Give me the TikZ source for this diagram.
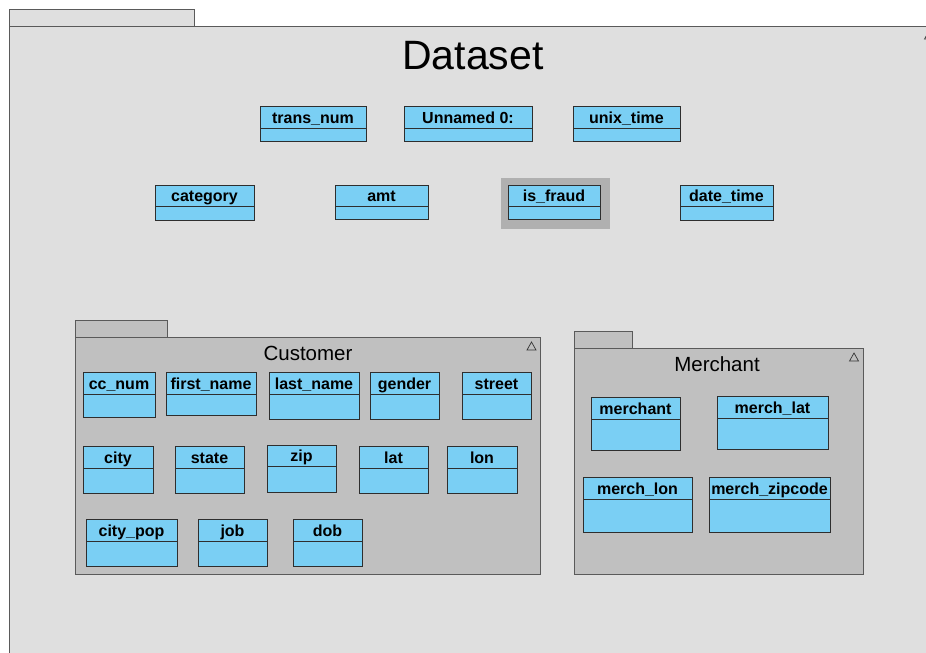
\documentclass[tikz,border=0pt]{standalone}
\usepackage{fontspec}
\setmainfont{Liberation Sans}
\usetikzlibrary{fit}
\definecolor{outerbg}{HTML}{DFDFDF}
\definecolor{pkgbg}{HTML}{C0C0C0}
\definecolor{clsfill}{HTML}{7ACFF4}
\definecolor{pkgline}{HTML}{5A5A5A}
\definecolor{clsline}{HTML}{2E2E2E}
\definecolor{hilite}{HTML}{B0B0B0}
\tikzset{
  pkgshape/.style={draw=pkgline, line width=0.9pt},
  clsbox/.style={draw=clsline, fill=clsfill, line width=0.9pt, inner sep=0pt},
  clsdiv/.style={draw=clsline, line width=0.8pt},
  clslabel/.style={font=\bfseries\fontsize{16}{17}\selectfont, inner sep=0pt, anchor=base},
  pkgtitle/.style={font=\fontsize{20.5}{22}\selectfont, inner sep=0pt},
  tri/.style={draw=black!80, line width=0.7pt, line join=miter}
}
% name, x1, y1, x2, y2, ydiv, text
\newcommand\umlclass[7]{%
  \node[clsbox, fit={(#2,#3) (#4,#5)}] (#1) {};
  \draw[clsdiv] (#2,#6) -- (#4,#6);
  \node[clslabel] (#1-t) at ({(#2+#4)/2},{#6-4.3}) {#7};
}
\begin{document}
\begin{tikzpicture}[x=1pt,y=-1pt]
\useasboundingbox (0,0) rectangle (926,653);
\fill[white] (0,0) rectangle (926,653);
\clip (0,0) rectangle (926,653);
% outer package Dataset
\filldraw[pkgshape, fill=outerbg] (9,9) rectangle (194,26);
\filldraw[pkgshape, fill=outerbg] (9,700) -- (9,26) -- (950,26) -- (950,700);
\node[font=\fontsize{41}{44}\selectfont, inner sep=0pt] (dataset) at (473,56) {Dataset};
\draw[tri] (924.5,39) -- (929,31) -- (933.5,39) -- cycle;
% top classes
\umlclass{transnum}{260}{106}{366}{141}{128}{trans\_num}
\umlclass{unnamed}{404}{106}{532}{141}{128}{Unnamed 0:}
\umlclass{unixtime}{573}{106}{680}{141}{128}{unix\_time}
\umlclass{category}{155}{185}{254}{220}{206}{category}
\umlclass{amt}{335}{185}{428}{219}{206}{amt}
\fill[hilite] (501,178) rectangle (610,229);
\umlclass{isfraud}{508}{185}{600}{219}{206}{is\_fraud}
\umlclass{datetime}{680}{185}{773}{220}{206}{date\_time}
% Customer package
\filldraw[pkgshape, fill=pkgbg] (75,320) rectangle (167,337);
\filldraw[pkgshape, fill=pkgbg] (75,337) rectangle (540,574);
\node[pkgtitle] (customer) at (308,353) {Customer};
\draw[tri] (527,350) -- (531.5,342) -- (536,350) -- cycle;
\umlclass{ccnum}{83}{372}{155}{417}{394}{cc\_num}
\umlclass{firstname}{166}{372}{256}{415}{394}{first\_name}
\umlclass{lastname}{269}{372}{359}{419}{394}{last\_name}
\umlclass{gender}{370}{372}{439}{419}{394}{gender}
\umlclass{street}{462}{372}{531}{419}{394}{street}
\umlclass{city}{83}{446}{153}{493}{468}{city}
\umlclass{state}{175}{446}{244}{493}{468}{state}
\umlclass{zip}{267}{445}{336}{492}{466}{zip}
\umlclass{lat}{359}{446}{428}{493}{468}{lat}
\umlclass{lon}{447}{446}{517}{493}{468}{lon}
\umlclass{citypop}{86}{519}{177}{566}{541}{city\_pop}
\umlclass{job}{198}{519}{267}{566}{541}{job}
\umlclass{dob}{293}{519}{362}{566}{541}{dob}
% Merchant package
\filldraw[pkgshape, fill=pkgbg] (574,331) rectangle (632,348);
\filldraw[pkgshape, fill=pkgbg] (574,348) rectangle (863,574);
\node[pkgtitle] (merchantpkg) at (717,364) {Merchant};
\draw[tri] (849.5,361) -- (854,353) -- (858.5,361) -- cycle;
\umlclass{merchant}{591}{397}{680}{450}{419}{merchant}
\umlclass{merchlat}{717}{396}{828}{449}{418}{merch\_lat}
\umlclass{merchlon}{583}{477}{692}{532}{499}{merch\_lon}
\umlclass{merchzip}{709}{477}{830}{532}{499}{merch\_zipcode}
\end{tikzpicture}
\end{document}
